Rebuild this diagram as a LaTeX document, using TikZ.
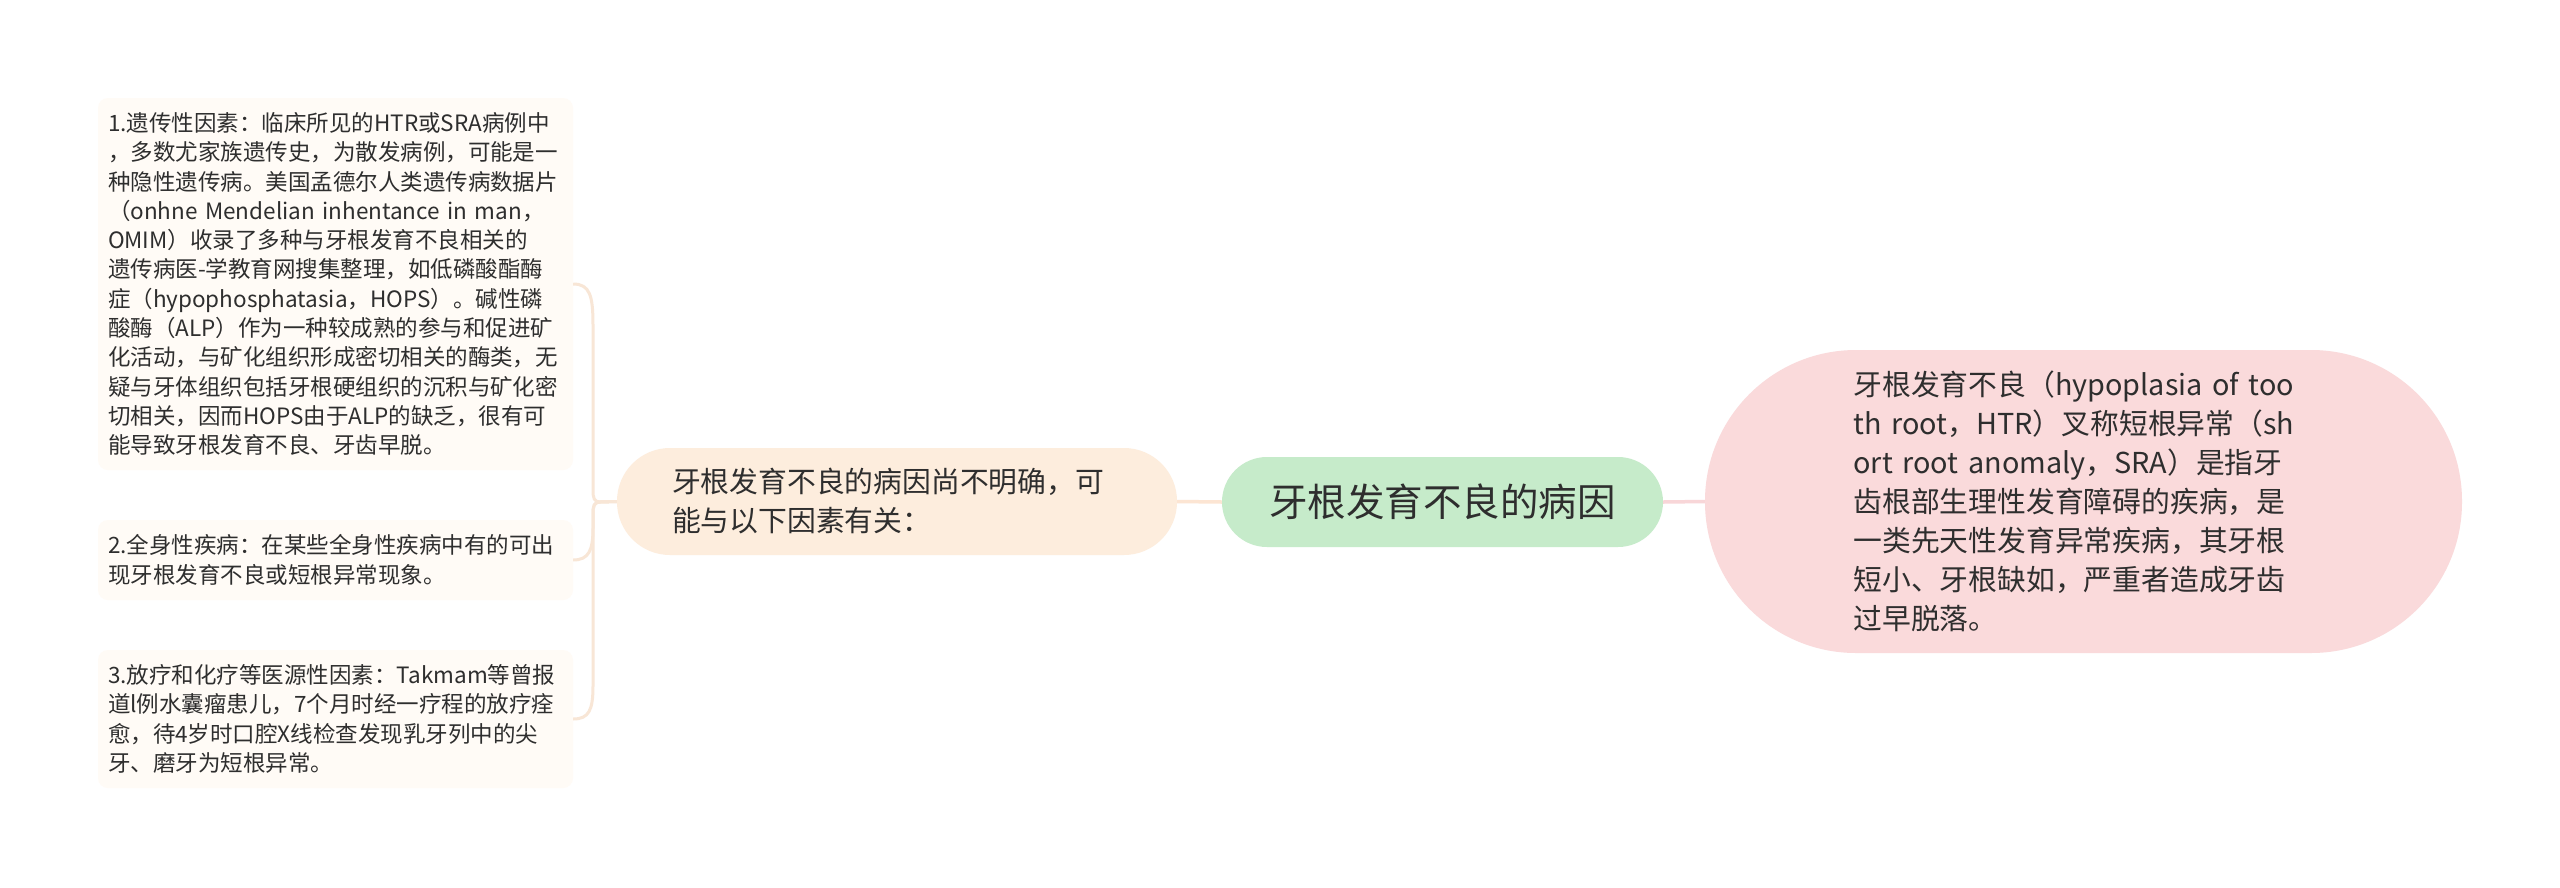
\documentclass[tikz,border=0pt]{standalone}
\usepackage{fontspec}
\setmainfont{Noto Sans CJK SC}
\definecolor{txtc}{HTML}{2E2E2E}
\definecolor{greenc}{HTML}{C6EBCA}
\definecolor{orangec}{HTML}{FDEDDD}
\definecolor{pinkc}{HTML}{FADADB}
\definecolor{leaffill}{HTML}{FFFBF6}
\definecolor{orline}{HTML}{FCE5D3}
\definecolor{pkline}{HTML}{F8D6D8}
\definecolor{lfline}{HTML}{F8E6D6}
\begin{document}
\begin{tikzpicture}[x=1pt,y=-1pt,
  leaf/.style={draw=none, fill=leaffill, rounded corners=10pt, minimum width=475pt,
    inner sep=0pt, align=left, text width=455pt, text=txtc,
    font=\fontsize{22.5}{29.3}\selectfont},
  mainbox/.style={draw=none, inner sep=0pt, align=left, text=txtc,
    font=\fontsize{28.8}{39}\selectfont},
  rootbox/.style={draw=none, fill=greenc, inner sep=0pt, text=txtc,
    rounded corners=45pt, minimum width=441pt, minimum height=90pt,
    font=\fontsize{38.5}{40}\selectfont},
  conn/.style={line width=3.5pt},
  lconn/.style={line width=3pt, draw=lfline}]
\useasboundingbox (0,0) rectangle (2560,887);
\fill[white] (0,0) rectangle (2560,887);

\node[rootbox] (root) at (1442.5,502) {牙根发育不良的病因};

\node[mainbox, fill=orangec, minimum width=560pt, minimum height=107pt,
  rounded corners=53pt, text width=450pt] (cause) at (897,501.5)
  {牙根发育不良的病因尚不明确，可\\能与以下因素有关：};

\node[mainbox, fill=pinkc, minimum width=757pt, minimum height=303pt,
  rounded corners=151pt, text width=460pt] (def) at (2083.5,501.5)
  {牙根发育不良（hypoplasia of too\\
   th root，HTR）叉称短根异常（sh\\
   ort root anomaly，SRA）是指牙\\
   齿根部生理性发育障碍的疾病，是\\
   一类先天性发育异常疾病，其牙根\\
   短小、牙根缺如，严重者造成牙齿\\
   过早脱落。};

\node[leaf, minimum height=372pt] (f1) at (335.5,284)
  {1.遗传性因素：临床所见的HTR或SRA病例中\\
   ，多数尤家族遗传史，为散发病例，可能是一\\
   种隐性遗传病。美国孟德尔人类遗传病数据片\\
   （onhne Mendelian inhentance in man，\\
   OMIM）收录了多种与牙根发育不良相关的\\
   遗传病医-学教育网搜集整理，如低磷酸酯酶\\
   症（hypophosphatasia，HOPS）。碱性磷\\
   酸酶（ALP）作为一种较成熟的参与和促进矿\\
   化活动，与矿化组织形成密切相关的酶类，无\\
   疑与牙体组织包括牙根硬组织的沉积与矿化密\\
   切相关，因而HOPS由于ALP的缺乏，很有可\\
   能导致牙根发育不良、牙齿早脱。};

\node[leaf, minimum height=80pt] (f2) at (335.5,560)
  {2.全身性疾病：在某些全身性疾病中有的可出\\
   现牙根发育不良或短根异常现象。};

\node[leaf, minimum height=138pt] (f3) at (335.5,719)
  {3.放疗和化疗等医源性因素：Takmam等曾报\\
   道l例水囊瘤患儿，7个月时经一疗程的放疗痊\\
   愈，待4岁时口腔X线检查发现乳牙列中的尖\\
   牙、磨牙为短根异常。};

\draw[conn, draw=orline] (cause.east) -- (root.west);
\draw[conn, draw=pkline] (root.east) -- (def.west);

\draw[lconn] (cause.west) -- (600,502) .. controls (594,502) and (593,498) .. (593,490)
  -- (593,325) .. controls (593,296) and (590,284) .. (f1.east);
\draw[lconn] (cause.west) -- (600,502) .. controls (594,502) and (593,506) .. (593,514)
  -- (593,528) .. controls (593,550) and (589,560) .. (f2.east);
\draw[lconn] (cause.west) -- (600,502) .. controls (594,502) and (593,506) .. (593,514)
  -- (593,686) .. controls (593,710) and (589,719) .. (f3.east);
\end{tikzpicture}
\end{document}
